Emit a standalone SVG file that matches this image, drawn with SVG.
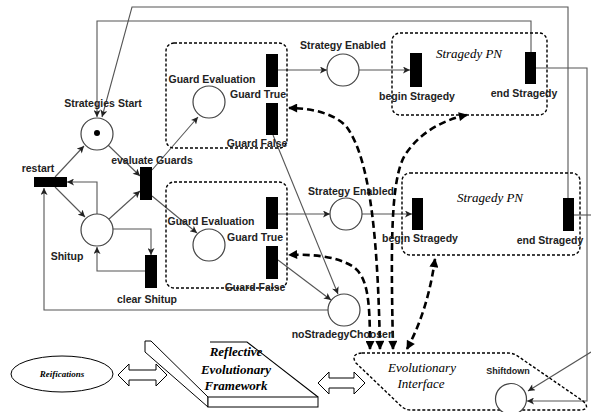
<svg xmlns="http://www.w3.org/2000/svg" width="591" height="412" viewBox="0 0 591 412">
<defs>
<marker id="ah" viewBox="0 0 10 10" refX="10" refY="5" markerWidth="8" markerHeight="7" markerUnits="userSpaceOnUse" orient="auto"><path d="M0,0 L10,5 L0,10 L2.5,5 Z" fill="#222"/></marker>
<marker id="dh" viewBox="0 0 10 10" refX="9" refY="5" markerWidth="10" markerHeight="9" markerUnits="userSpaceOnUse" orient="auto-start-reverse"><path d="M0,0 L10,5 L0,10 Z" fill="#000"/></marker>
</defs>
<style>
.ln{fill:none;stroke:#555;stroke-width:1.1}
.ar{marker-end:url(#ah)}
.dc{fill:none;stroke:#000;stroke-width:2.6;stroke-dasharray:7,4;marker-start:url(#dh);marker-end:url(#dh)}
.pl{fill:#fff;stroke:#444;stroke-width:1.2}
.tr{fill:#000}
.box{fill:none;stroke:#000;stroke-width:1.4;stroke-dasharray:3,2}
.lb{font-family:"Liberation Sans",Arial,sans-serif;font-weight:bold;font-size:10.5px;fill:#222;text-anchor:middle}
.it{font-family:"Liberation Serif","Times New Roman",serif;font-style:italic;font-size:13px;fill:#000;text-anchor:middle}
.bi{font-family:"Liberation Serif","Times New Roman",serif;font-style:italic;font-weight:bold;font-size:13px;fill:#000;text-anchor:middle}
.sl{fill:#fff;stroke:#000;stroke-width:1}
</style>
<rect width="591" height="412" fill="#fff"/>

<g id="connectors">
<path class="ln ar" d="M568,198 V7 H132 L102,117"/>
<path class="ln ar" d="M531,52 V21 H97 V117"/>
<path class="ln ar" d="M536,68 H587 V401 H527"/>
<path class="ln" d="M574,215 H591"/>
<path class="ln ar" d="M591,352 L528,391"/>
<path class="ln ar" d="M55,177 L84,146"/>
<path class="ln ar" d="M108,145 L140,176"/>
<path class="ln ar" d="M55,187 L85,217"/>
<path class="ln ar" d="M97,214 V182 H67"/>
<path class="ln ar" d="M109,219 L140,191"/>
<path class="ln ar" d="M113,229 H151 V255"/>
<path class="ln ar" d="M145,271 H97 V247"/>
<path class="ln ar" d="M152,170 L198,117"/>
<path class="ln ar" d="M152,196 L197,233"/>
<path class="ln ar" d="M278,70 H327"/>
<path class="ln ar" d="M359,70 H410"/>
<path class="ln ar" d="M278,214 H330"/>
<path class="ln ar" d="M362,214 H412"/>
<path class="ln ar" d="M273,135 L338,294"/>
<path class="ln ar" d="M278,260 L331,300"/>
<path class="ln ar" d="M328,310 H44 V188"/>
<path class="dc" d="M380,349 C378,250 372,160 346,126 C332,112 308,108 289,108"/>
<path class="dc" d="M393,349 C391,250 390,180 405,155 C420,132 443,120 467,115"/>
<path class="dc" d="M370,349 C370,300 368,276 352,266 C336,256 310,254 289,255"/>
<path class="dc" d="M407,349 Q428,310 435,259"/>
</g>

<g id="guard-box-1"><rect class="box" x="166" y="43" width="121" height="105" rx="8"/></g>
<g id="guard-box-2"><rect class="box" x="166" y="182" width="121" height="106" rx="8"/></g>
<g id="stragedy-pn-1"><rect class="box" x="392" y="33" width="155" height="82" rx="8"/><text class="it" x="469" y="58">Stragedy PN</text></g>
<g id="stragedy-pn-2"><rect class="box" x="402" y="173" width="178" height="82" rx="8"/><text class="it" x="490" y="202">Stragedy PN</text></g>

<g id="strategies-start"><circle class="pl" cx="97" cy="134" r="16"/><circle cx="97" cy="133" r="3" fill="#000"/><text class="lb" x="103" y="107">Strategies Start</text></g>
<g id="restart"><rect class="tr" x="34" y="177" width="33" height="10"/><text class="lb" x="38" y="172">restart</text></g>
<g id="evaluate-guards"><rect class="tr" x="140" y="167" width="12" height="33"/><text class="lb" x="152" y="164">evaluate Guards</text></g>
<g id="shitup"><circle class="pl" cx="97" cy="230" r="16"/><text class="lb" x="67" y="260">Shitup</text></g>
<g id="clear-shitup"><rect class="tr" x="145" y="255" width="12" height="33"/><text class="lb" x="147" y="303">clear Shitup</text></g>

<g id="guard-evaluation-1"><circle class="pl" cx="209" cy="102" r="16"/><text class="lb" x="212" y="83">Guard Evaluation</text></g>
<g id="guard-true-1"><rect class="tr" x="266" y="54" width="12" height="33"/><text class="lb" x="258" y="98">Guard True</text></g>
<g id="guard-false-1"><rect class="tr" x="266" y="103" width="12" height="32"/><text class="lb" x="257" y="147">Guard False</text></g>
<g id="strategy-enabled-1"><circle class="pl" cx="343" cy="70" r="16"/><text class="lb" x="343" y="49">Strategy Enabled</text></g>
<g id="begin-stragedy-1"><rect class="tr" x="410" y="53" width="12" height="34"/><text class="lb" x="417" y="100">begin Stragedy</text></g>
<g id="end-stragedy-1"><rect class="tr" x="525" y="52" width="11" height="32"/><text class="lb" x="524" y="97">end Stragedy</text></g>

<g id="guard-evaluation-2"><circle class="pl" cx="209" cy="245" r="16"/><text class="lb" x="211" y="225">Guard Evaluation</text></g>
<g id="guard-true-2"><rect class="tr" x="266" y="197" width="12" height="32"/><text class="lb" x="255" y="241">Guard True</text></g>
<g id="guard-false-2"><rect class="tr" x="266" y="246" width="12" height="33"/><text class="lb" x="255" y="291">Guard False</text></g>
<g id="strategy-enabled-2"><circle class="pl" cx="346" cy="214" r="16"/><text class="lb" x="351" y="195">Strategy Enabled</text></g>
<g id="begin-stragedy-2"><rect class="tr" x="412" y="198" width="11" height="32"/><text class="lb" x="420" y="242">begin Stragedy</text></g>
<g id="end-stragedy-2"><rect class="tr" x="563" y="198" width="11" height="33"/><text class="lb" x="550" y="244">end Stragedy</text></g>

<g id="no-stradegy-choosen"><circle class="pl" cx="344" cy="310" r="16"/><text class="lb" x="343" y="338">noStradegyChoosen</text></g>

<g id="evolutionary-interface">
<path class="box" d="M362,353 H508 Q514,353 519,357 L583,401 Q591,409 581,410 H411 Q405,410 401,406 L356,363 Q350,354 362,353 Z" stroke-width="1.6" stroke-dasharray="5,3"/>
<text class="it" x="422" y="372">Evolutionary</text>
<text class="it" x="421" y="388">Interface</text>
</g>
<g id="shiftdown"><circle class="pl" cx="511" cy="399" r="15.5"/><text class="lb" x="508" y="374" style="font-size:9px">Shiftdown</text></g>

<g id="reifications"><ellipse class="sl" cx="62" cy="374" rx="51" ry="18"/><text class="bi" x="62" y="377" style="font-size:9px">Reifications</text></g>
<g id="double-arrow-1"><path class="sl" d="M118,375 L129,364 L129,370 L156,370 L156,364 L167,375 L156,386 L156,380 L129,380 L129,386 Z"/></g>
<g id="reflective-framework">
<path class="sl" d="M145,341 L151,341 L208,397 L208,407 L145,352 Z"/>
<path class="ln" style="stroke:#000" d="M210,342 H247 L318,397"/>
<rect class="sl" x="208" y="397" width="110" height="10"/>
<text class="bi" x="236" y="356">Reflective</text>
<text class="bi" x="236" y="374">Evolutionary</text>
<text class="bi" x="236" y="390">Framework</text>
</g>
<g id="double-arrow-2"><path class="sl" d="M318,383 L329,372 L329,378 L354,378 L354,372 L365,383 L354,394 L354,388 L329,388 L329,394 Z"/></g>
</svg>
